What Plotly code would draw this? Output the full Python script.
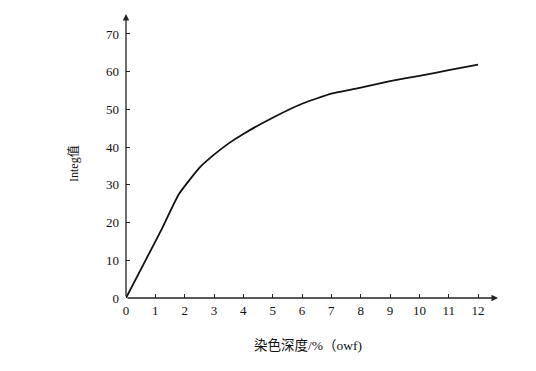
import plotly.graph_objects as go

depth = [0, 0.6, 1.2, 1.8, 2.5, 3.0, 3.5, 4, 5, 6, 7, 8, 9, 10, 11, 12]
integ = [0, 9.0, 18.0, 27.5, 34.5, 38.0, 41.0, 43.5, 47.8, 51.5, 54.2, 55.8, 57.5, 58.9, 60.4, 61.9]
x_ticks = list(range(0, 13))
y_ticks = [0, 10, 20, 30, 40, 50, 60, 70]

X_MAX = 12.68
Y_MAX = 75.3

# page has an 8px body margin; compensate
OFF = 8
W, H = 536 - OFF, 371 - OFF
L, T = 126 - OFF, 14 - OFF
R = W - (498 - OFF)
B = H - (298 - OFF)
pw = W - L - R
ph = H - T - B

TXT = "#111111"

fig = go.Figure()
fig.add_trace(go.Scatter(x=depth, y=integ, mode="lines",
                         line=dict(color="#111111", width=1.8, shape="spline", smoothing=0.4),
                         showlegend=False, hoverinfo="skip"))

fig.update_layout(
    width=W, height=H,
    margin=dict(l=L, r=R, t=T, b=B),
    paper_bgcolor="white", plot_bgcolor="white",
    font=dict(family="Liberation Serif, Noto Sans CJK SC, serif", size=13, color=TXT),
    xaxis=dict(range=[0, X_MAX], tickvals=x_ticks, ticks="inside", ticklen=4,
               tickcolor="#222", showgrid=False, zeroline=False, showline=False,
               tickfont=dict(size=13, color=TXT), ticklabelstandoff=3, fixedrange=True),
    yaxis=dict(range=[0, Y_MAX], tickvals=y_ticks, ticks="inside", ticklen=4,
               tickcolor="#222", showgrid=False, zeroline=False, showline=False,
               tickfont=dict(size=13, color=TXT), ticklabelstandoff=6, fixedrange=True),
)

# axis lines with arrows
fig.add_annotation(x=X_MAX, y=0, ax=0, ay=0, xref="x", yref="y", axref="x", ayref="y",
                   showarrow=True, arrowhead=2, arrowsize=1, arrowwidth=1.3, arrowcolor="#222", text="")
fig.add_annotation(x=0, y=Y_MAX, ax=0, ay=0, xref="x", yref="y", axref="x", ayref="y",
                   showarrow=True, arrowhead=2, arrowsize=1, arrowwidth=1.3, arrowcolor="#222", text="")

def px2paper(px, py):
    return ((px - 126) / pw, (298 - py) / ph)

xl, yl = px2paper(308, 345)
fig.add_annotation(text="染色深度/%（owf)", x=xl, y=yl, xref="paper", yref="paper",
                   xanchor="center", yanchor="middle",
                   showarrow=False, font=dict(size=13.5, color=TXT))
xl, yl = px2paper(73, 164)
fig.add_annotation(text="Integ值", x=xl, y=yl, xref="paper", yref="paper",
                   xanchor="center", yanchor="middle",
                   showarrow=False, textangle=-90, font=dict(size=12, color=TXT))

fig.write_html("out.html")
